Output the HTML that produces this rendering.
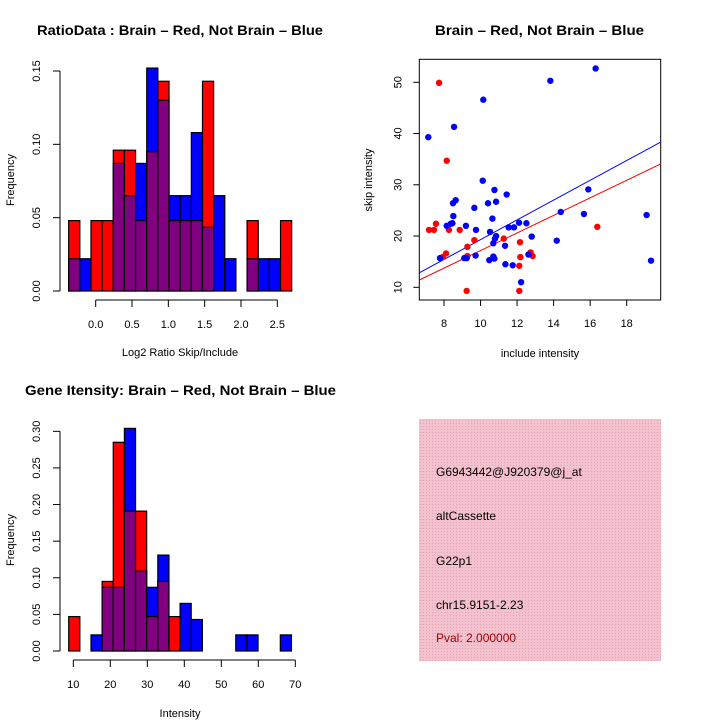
<!DOCTYPE html>
<html><head><meta charset="utf-8"><style>
body{margin:0;background:#fff}
svg{display:block;font-family:"Liberation Sans",sans-serif}
</style></head><body>
<svg id="c" width="720" height="720" viewBox="0 0 720 720">
<defs>
<pattern id="hatch" width="3" height="3" patternUnits="userSpaceOnUse"><rect width="3" height="3" fill="#f4c2ce"/><rect width="1" height="1" fill="#e8a0b4"/></pattern>
</defs>
<g id="g1"></g>
<g id="g2"></g>
<g id="g3"></g>
<g id="g4">
<rect x="419" y="419" width="242" height="242" fill="url(#hatch)"/>
<text x="436" y="476" font-size="12">G6943442@J920379@j_at</text>
<text x="436" y="520" font-size="12">altCassette</text>
<text x="436" y="565" font-size="12">G22p1</text>
<text x="436" y="609" font-size="12">chr15.9151-2.23</text>
<text x="436" y="642" font-size="12" fill="#a00000">Pval: 2.000000</text>
</g>
</svg>
<script>
// Ratio histogram data
const ratioStart = -0.372, ratioWidth = 0.1535;
const ratioRed  = [0.048,0,0.048,0.048,0.096,0.096,0.048,0.095,0.143,0.048,0.048,0.048,0.143,0,0,0,0.048,0,0,0.048];
const ratioBlue = [0.022,0.022,0,0,0.087,0.065,0.087,0.152,0.130,0.065,0.065,0.108,0.0435,0.065,0.022,0,0.022,0.022,0.022,0];
const ratioXTicks = [0,0.5,1,1.5,2,2.5];
const ratioXLabels = ["0.0","0.5","1.0","1.5","2.0","2.5"];
const ratioYTicks = [0,0.05,0.10,0.15];
const ratioYLabels = ["0.00","0.05","0.10","0.15"];
// Gene intensity histogram data
const geneStart = 8.76, geneWidth = 3.01;
const geneRed  = [0.047,0,0,0.095,0.285,0.191,0.191,0.047,0.095,0.047,0,0,0,0,0,0,0,0,0,0];
const geneBlue = [0,0,0.022,0.087,0.087,0.304,0.109,0.087,0.131,0,0.065,0.043,0,0,0,0.022,0.022,0,0,0.022];
const geneXTicks = [10,20,30,40,50,60,70];
const geneYTicks = [0,0.05,0.10,0.15,0.20,0.25,0.30];
const geneYLabels = ["0.00","0.05","0.10","0.15","0.20","0.25","0.30"];
// Scatter data
const redX = [7.73,8.15,7.18,7.45,7.56,8.27,8.86,8.11,7.93,9.28,9.28,9.66,9.24,11.27,12.16,12.18,12.12,12.12,12.74,12.85,16.39];
const redY = [49.9,34.7,21.2,21.2,22.4,21.2,21.2,16.6,15.9,17.9,16.1,19.2,9.3,19.5,18.8,15.9,14.2,9.3,16.8,16.1,21.8];
const blueX = [7.14,8.55,10.15,13.82,16.30,7.78,8.15,8.37,8.46,8.51,8.49,8.64,9.20,9.11,9.24,9.73,9.75,9.66,10.12,10.41,10.52,10.48,10.65,10.70,10.76,10.70,10.79,10.85,10.76,10.85,11.43,11.34,11.36,11.54,11.83,11.76,12.11,12.51,12.80,12.22,12.62,14.17,14.39,15.66,15.90,19.09,19.33];
const blueY = [39.3,41.3,46.6,50.3,52.7,15.7,22.0,22.4,22.5,23.9,26.4,27.0,22.0,15.7,15.7,16.2,21.2,25.5,30.8,26.4,20.8,15.3,23.4,16.0,15.6,18.6,19.5,20.0,29.0,26.7,28.1,18.1,14.5,21.7,21.7,14.3,22.6,22.5,19.9,11.0,16.4,19.1,24.7,24.3,29.1,24.1,15.2];
const redFit = [0.03,1.714];
const blueFit = [0.0,1.93];
const scXTicks = [8,10,12,14,16,18];
const scYTicks = [10,20,30,40,50];

const NS="http://www.w3.org/2000/svg";
function mk(parent,tag,attrs){const e=document.createElementNS(NS,tag);for(const k in attrs)e.setAttribute(k,attrs[k]);parent.appendChild(e);return e;}
function txt(parent,x,y,s,size,extra){const t=mk(parent,'text',Object.assign({x:x,y:y,'font-size':size},extra||{}));t.textContent=s;return t;}

function hist(g,o){
  const sx=v=>o.x0+(v-o.xv0)*o.xs, sy=v=>o.y0-v*o.ys;
  for(let i=0;i<o.red.length;i++){
    const a=o.start+i*o.w, b=a+o.w, r=o.red[i], bl=o.blue[i];
    const x1=sx(a), x2=sx(b);
    const hi=Math.max(r,bl), lo=Math.min(r,bl);
    if(hi<=0) continue;
    const r1=mk(g,'rect',{x:x1,y:sy(hi),width:x2-x1,height:sy(0)-sy(hi),fill:r>=bl?'#ff0000':'#0000ff',stroke:'#000','stroke-width':1.2});
    
    
    if(lo>0){
      const r2=mk(g,'rect',{x:x1,y:sy(lo),width:x2-x1,height:sy(0)-sy(lo),fill:'#800080',stroke:'#000','stroke-width':1.2});
      
      
    }
  }
  const ya=mk(g,'g',{});
  
  
  mk(ya,'line',{x1:60,x2:60,y1:sy(o.yt[o.yt.length-1]),y2:sy(0),stroke:'#000'});
  o.yt.forEach((v,i)=>{mk(ya,'line',{x1:53,x2:60,y1:sy(v),y2:sy(v),stroke:'#000'});
    txt(ya,40,sy(v),o.yl[i],11,{'text-anchor':'middle',transform:`rotate(-90 40 ${sy(v)})`});});
  const xa=mk(g,'g',{});
  
  
  const ay=o.y0+9;
  mk(xa,'line',{x1:sx(o.xt[0]),x2:sx(o.xt[o.xt.length-1]),y1:ay,y2:ay,stroke:'#000'});
  o.xt.forEach((v,i)=>{mk(xa,'line',{x1:sx(v),x2:sx(v),y1:ay,y2:ay+7,stroke:'#000'});
    txt(xa,sx(v),ay+28,o.xl[i],11,{'text-anchor':'middle'});});
  const t=txt(g,o.titleX,o.titleY,o.title,14,{'font-weight':'bold',textLength:o.titleW,lengthAdjust:'spacingAndGlyphs'});
  
  
  const yl=txt(g,14,o.yMid,'Frequency',11,{'text-anchor':'middle',transform:`rotate(-90 14 ${o.yMid})`});
  
  
  const xl=txt(g,180,o.xLabY,o.xlabel,11,{'text-anchor':'middle'});
  
  
}

hist(document.getElementById('g1'),{x0:95.7,xv0:0,xs:72.64,y0:291,ys:1466.7,start:ratioStart,w:ratioWidth,red:ratioRed,blue:ratioBlue,
  yt:ratioYTicks,yl:ratioYLabels,xt:ratioXTicks,xl:ratioXLabels,title:'RatioData : Brain \u2013 Red, Not Brain \u2013 Blue',titleX:37,titleW:286,titleY:35,yMid:180,xlabel:'Log2 Ratio Skip/Include',xLabY:356});
hist(document.getElementById('g3'),{x0:73.3,xv0:10,xs:3.7,y0:651,ys:732.3,start:geneStart,w:geneWidth,red:geneRed,blue:geneBlue,
  yt:geneYTicks,yl:geneYLabels,xt:geneXTicks,xl:geneXTicks.map(String),title:'Gene Itensity: Brain \u2013 Red, Not Brain \u2013 Blue',titleX:25,titleW:311,titleY:395,yMid:540,xlabel:'Intensity',xLabY:717});

(function(){
  const g=document.getElementById('g2');
  const L=419.3,R=660.7,T=59.3,B=300;
  const sx=v=>444+(v-8)*18.27, sy=v=>287.3-(v-10)*5.125;
  const box=mk(g,'rect',{x:L,y:T,width:R-L,height:B-T,fill:'none',stroke:'#000'});
  
  
  const cp=mk(g,'clipPath',{id:'clp'});mk(cp,'rect',{x:L,y:T,width:R-L,height:B-T});
  const xv0=(L-444)/18.27+8, xv1=(R-444)/18.27+8;
  [[blueFit,'#0000ff','blue-fit-line'],[redFit,'#ff0000','red-fit-line']].forEach(([f,c,n])=>{
    const l=mk(g,'line',{x1:sx(xv0),y1:sy(f[0]+f[1]*xv0),x2:sx(xv1),y2:sy(f[0]+f[1]*xv1),stroke:c,'stroke-width':1,'clip-path':'url(#clp)'});
    
    
  });
  redX.forEach((x,i)=>{const c=mk(g,'circle',{cx:sx(x),cy:sy(redY[i]),r:3.2,fill:'#ff0000'});
    
    });
  blueX.forEach((x,i)=>{const c=mk(g,'circle',{cx:sx(x),cy:sy(blueY[i]),r:3.2,fill:'#0000ff'});
    
    });
  scXTicks.forEach(v=>{mk(g,'line',{x1:sx(v),x2:sx(v),y1:B,y2:B+6,stroke:'#000'});
    txt(g,sx(v),B+27,String(v),11,{'text-anchor':'middle'});});
  scYTicks.forEach(v=>{mk(g,'line',{x1:L-6,x2:L,y1:sy(v),y2:sy(v),stroke:'#000'});
    txt(g,L-18,sy(v),String(v),11,{'text-anchor':'middle',transform:`rotate(-90 ${L-18} ${sy(v)})`});});
  const t=txt(g,435,35,'Brain \u2013 Red, Not Brain \u2013 Blue',14,{'font-weight':'bold',textLength:209,lengthAdjust:'spacingAndGlyphs'});
  
  
  const xl=txt(g,540,357,'include intensity',11,{'text-anchor':'middle'});
  
  
  const yl=txt(g,372,180,'skip intensity',11,{'text-anchor':'middle',transform:'rotate(-90 372 180)'});
  
  
})();
</script>
</body></html>
